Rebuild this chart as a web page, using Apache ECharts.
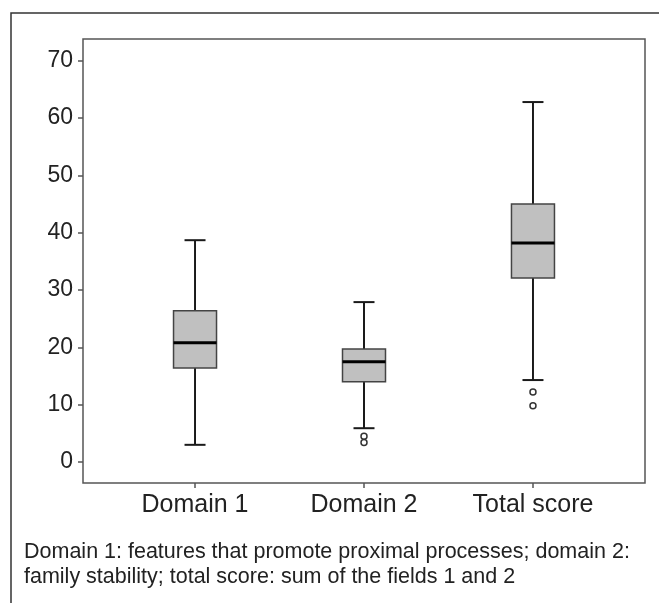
<!DOCTYPE html>
<html>
<head>
<meta charset="utf-8">
<script src="https://cdn.jsdelivr.net/npm/echarts@6/dist/echarts.min.js"></script>
<style>
  html, body { margin: 0; padding: 0; background: #fff; }
  #chart { width: 659px; height: 603px; }
</style>
</head>
<body>
<div id="chart"></div>
<script>
// groups along the x axis
const categories = ['Domain 1', 'Domain 2', 'Total score']
// [whisker low, q1, median, q3, whisker high]
const boxStats = [
  [3.0, 16.4, 20.8, 26.4, 38.7],
  [5.9, 14.0, 17.5, 19.7, 27.9],
  [14.3, 32.1, 38.2, 45.0, 62.8]
]
// outliers as [group index, value]
const outliers = [
  [1, 4.5], [1, 3.4],
  [2, 12.2], [2, 9.8]
]
const yTicks = [0, 10, 20, 30, 40, 50, 60, 70]
const caption = 'Domain 1: features that promote proximal processes; domain 2:\nfamily stability; total score: sum of the fields 1 and 2'

const chart = echarts.init(document.getElementById('chart'))

const boxData = boxStats.map((s, i) => [i + 1].concat(s))
const outlierData = outliers.map(o => [o[0] + 1, o[1]])

function renderBox(params, api){
  const x = api.value(0)
  const lo = api.coord([x, api.value(1)])
  const q1 = api.coord([x, api.value(2)])
  const med = api.coord([x, api.value(3)])
  const q3 = api.coord([x, api.value(4)])
  const hi = api.coord([x, api.value(5)])
  const boxW = 43
  const capW = 21
  const cx = lo[0]
  const line = { stroke: '#1a1a1a', lineWidth: 2 }
  return {
    type: 'group',
    children: [
      { type: 'line', shape: { x1: cx, y1: hi[1], x2: cx, y2: q3[1] }, style: line },
      { type: 'line', shape: { x1: cx, y1: q1[1], x2: cx, y2: lo[1] }, style: line },
      { type: 'line', shape: { x1: cx - capW / 2, y1: hi[1], x2: cx + capW / 2, y2: hi[1] }, style: line },
      { type: 'line', shape: { x1: cx - capW / 2, y1: lo[1], x2: cx + capW / 2, y2: lo[1] }, style: line },
      { type: 'rect', shape: { x: cx - boxW / 2, y: q3[1], width: boxW, height: q1[1] - q3[1] },
        style: { fill: '#c0c0c0', stroke: '#444', lineWidth: 1.5 } },
      { type: 'line', shape: { x1: cx - boxW / 2, y1: med[1], x2: cx + boxW / 2, y2: med[1] },
        style: { stroke: '#000', lineWidth: 3 } }
    ]
  }
}

chart.setOption({
  animation: false,
  backgroundColor: '#fff',
  textStyle: { fontFamily: 'Liberation Sans, Arial, sans-serif' },
  graphic: [
    { type: 'rect', shape: { x: 11, y: 13, width: 700, height: 700 },
      style: { fill: 'none', stroke: '#333', lineWidth: 1.5 }, silent: true },
    { type: 'text', left: 24, top: 540,
      style: { text: caption, font: '21.5px "Liberation Sans", Arial, sans-serif', fill: '#222', lineHeight: 25 } }
  ],
  grid: {
    left: 83, top: 39, right: 14, bottom: 120,
    show: true, borderColor: '#555', borderWidth: 1.5
  },
  xAxis: {
    type: 'value',
    min: 0.337, max: 3.663,
    splitLine: { show: false },
    axisLine: { show: false, onZero: false },
    axisTick: { show: true, length: 5, customValues: [1, 2, 3], lineStyle: { color: '#555', width: 1.5 } },
    axisLabel: {
      customValues: [1, 2, 3],
      formatter: v => categories[Math.round(v) - 1] || '',
      fontSize: 25, color: '#222', margin: 10
    }
  },
  yAxis: {
    type: 'value',
    min: -3.66, max: 73.8,
    splitLine: { show: false },
    axisLine: { show: false, onZero: false },
    axisTick: { show: true, length: 5, customValues: yTicks, lineStyle: { color: '#555', width: 1.5 } },
    axisLabel: { customValues: yTicks, fontSize: 23, color: '#222', margin: 10 }
  },
  series: [
    {
      type: 'custom',
      renderItem: renderBox,
      encode: { x: 0, y: [1, 2, 3, 4, 5] },
      data: boxData
    },
    {
      type: 'scatter',
      symbol: 'circle',
      symbolSize: 6,
      itemStyle: { color: '#fff', borderColor: '#333', borderWidth: 1.5, opacity: 1 },
      data: outlierData
    }
  ]
})
</script>
</body>
</html>
